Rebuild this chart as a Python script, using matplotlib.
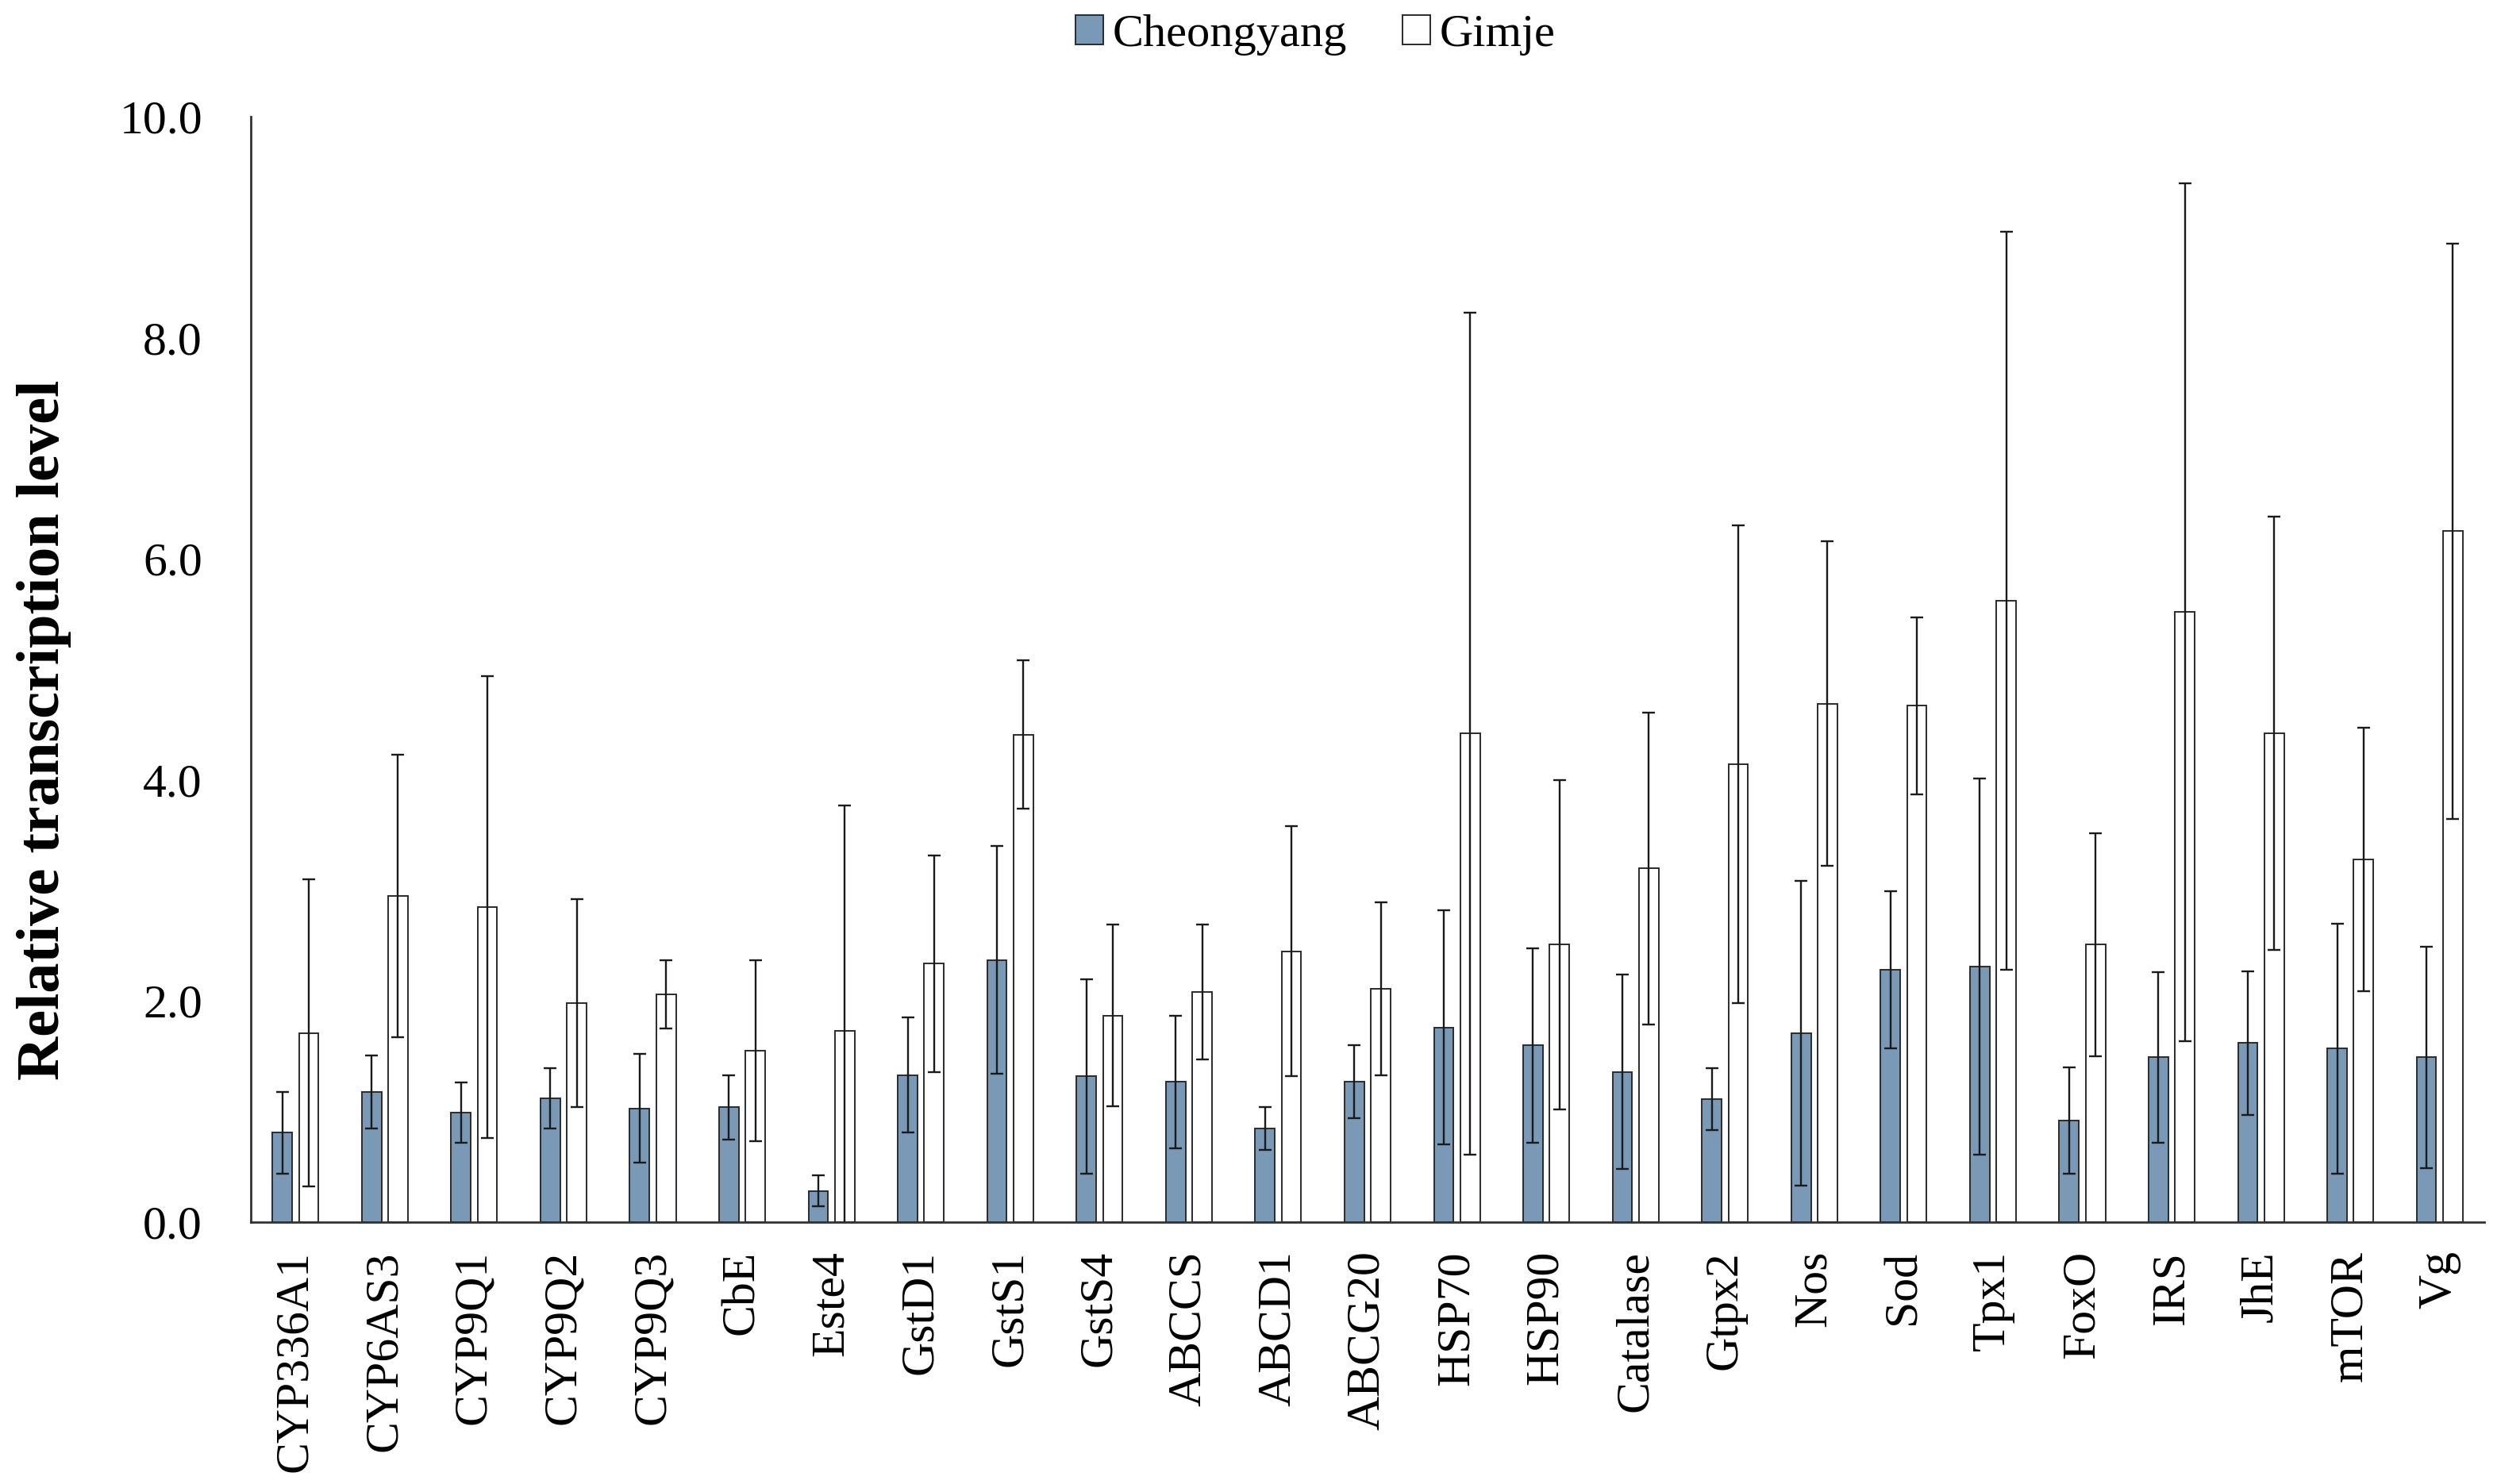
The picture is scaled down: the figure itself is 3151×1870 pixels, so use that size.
import matplotlib
matplotlib.use("Agg")
import matplotlib.pyplot as plt
import numpy as np
from matplotlib.patches import Patch
from matplotlib.ticker import FormatStrFormatter

genes = ["CYP336A1", "CYP6AS3", "CYP9Q1", "CYP9Q2", "CYP9Q3", "CbE", "Este4",
         "GstD1", "GstS1", "GstS4", "ABCCS", "ABCD1", "ABCG20", "HSP70", "HSP90",
         "Catalase", "Gtpx2", "Nos", "Sod", "Tpx1", "FoxO", "IRS", "JhE", "mTOR", "Vg"]

cheongyang = [0.81, 1.18, 0.99, 1.12, 1.03, 1.04, 0.28, 1.33, 2.37, 1.32, 1.27, 0.845,
              1.27, 1.76, 1.60, 1.36, 1.11, 1.71, 2.28, 2.31, 0.92, 1.49, 1.62, 1.57, 1.49]
cheongyang_top = [1.18, 1.51, 1.26, 1.39, 1.52, 1.33, 0.42, 1.85, 3.40, 2.20, 1.87, 1.04,
                  1.60, 2.82, 2.48, 2.24, 1.39, 3.09, 2.99, 4.01, 1.40, 2.26, 2.27, 2.70, 2.49]

gimje = [1.71, 2.95, 2.85, 1.98, 2.06, 1.55, 1.73, 2.34, 4.41, 1.87, 2.08, 2.45, 2.11,
         4.42, 2.51, 3.20, 4.14, 4.69, 4.67, 5.62, 2.51, 5.52, 4.42, 3.28, 6.25]
gimje_top = [3.10, 4.23, 4.94, 2.92, 2.37, 2.37, 3.77, 3.32, 5.08, 2.69, 2.69, 3.58, 2.89,
             8.23, 4.00, 4.61, 6.30, 6.16, 5.47, 8.96, 3.52, 9.40, 6.38, 4.47, 8.85]

c_err = np.array(cheongyang_top) - np.array(cheongyang)
g_err = np.array(gimje_top) - np.array(gimje)

plt.rcParams['font.family'] = ['Liberation Serif', 'DejaVu Serif']

W, H = 3151, 1870
fig = plt.figure(figsize=(W / 100, H / 100), dpi=100)
ax = fig.add_axes([316 / W, 1 - 1540 / H, (3130 - 316) / W, (1540 - 147) / H])

x = np.arange(len(genes))
bw = 0.22
off = 0.148
blue = "#7a99b6"
edge = "#2b2b2b"

ax.bar(x - off, cheongyang, bw, color=blue, edgecolor=edge, linewidth=1.4, zorder=2)
ax.bar(x + off, gimje, bw, color="white", edgecolor=edge, linewidth=1.4, zorder=2)
ax.errorbar(x - off, cheongyang, yerr=c_err, fmt="none", ecolor="#1a1a1a",
            elinewidth=1.7, capsize=6, capthick=1.7, zorder=3)
ax.errorbar(x + off, gimje, yerr=g_err, fmt="none", ecolor="#1a1a1a",
            elinewidth=1.7, capsize=6, capthick=1.7, zorder=3)

ax.set_xlim(-0.5, len(genes) - 0.5)
ax.set_ylim(0, 10)
ax.set_yticks([0, 2, 4, 6, 8, 10])
ax.yaxis.set_major_formatter(FormatStrFormatter("%.1f"))
ax.set_xticks(x)
ax.set_xticklabels(genes, rotation=90, fontsize=43)
ax.tick_params(axis="y", length=0, pad=44, labelsize=43)
ax.tick_params(axis="x", length=0, pad=26)
for s in ["top", "right"]:
    ax.spines[s].set_visible(False)
for s in ["left", "bottom"]:
    ax.spines[s].set_color("#333333")
    ax.spines[s].set_linewidth(2.0)

fig.text(56 / W, 1 - 920 / H, "Relative transcription level", rotation=90,
         ha="center", va="center", fontsize=55, fontweight="bold")

handles = [Patch(facecolor=blue, edgecolor=edge, linewidth=1.4),
           Patch(facecolor="white", edgecolor=edge, linewidth=1.4)]
fig.legend(handles, ["Cheongyang", "Gimje"], loc="center",
           bbox_to_anchor=(1657 / W, 1 - 44 / H), ncol=2, frameon=False,
           fontsize=42, handlelength=0.6, handleheight=0.6, handletextpad=0.2,
           columnspacing=1.2)

fig.savefig("out.png", dpi=100)
